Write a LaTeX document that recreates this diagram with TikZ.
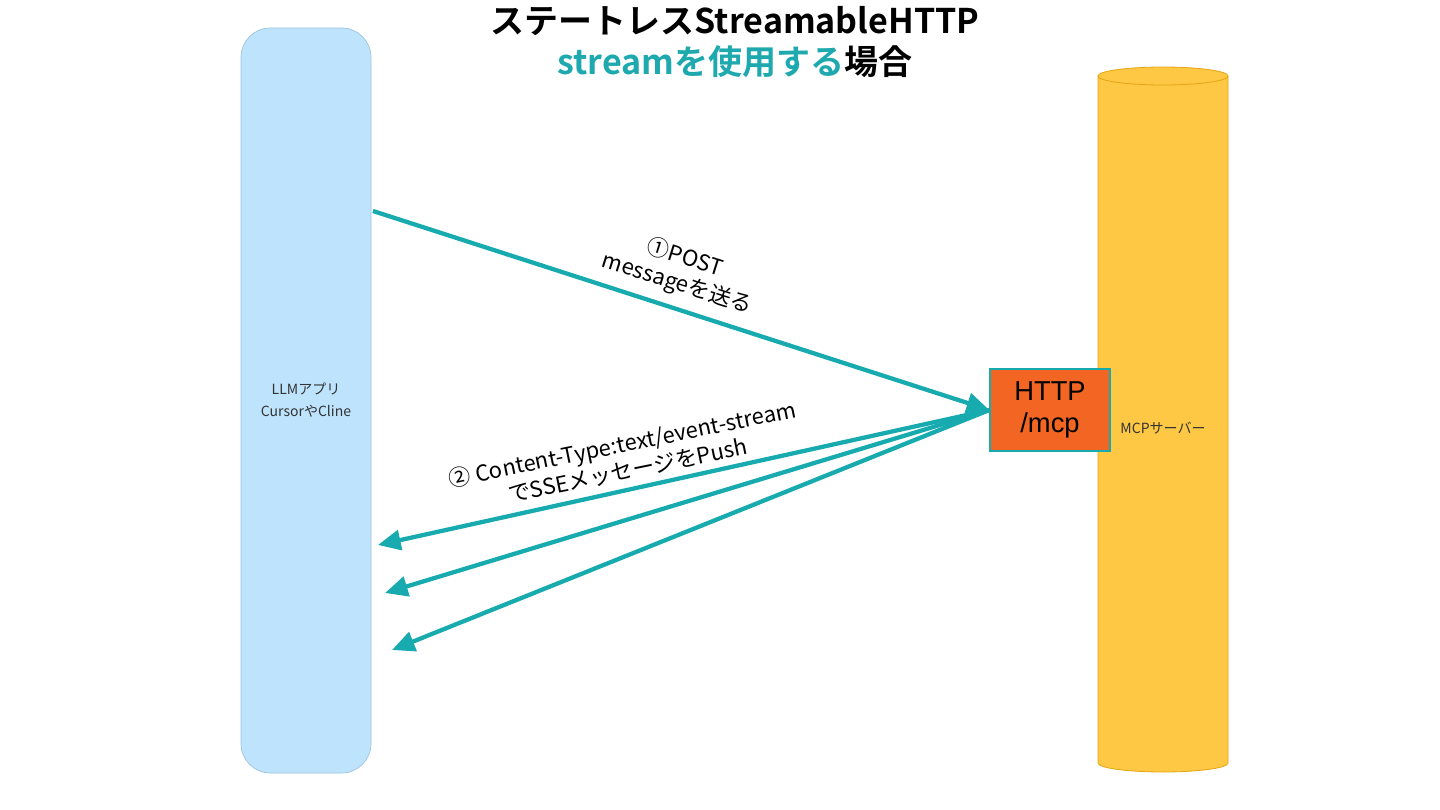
\documentclass[tikz,border=0pt]{standalone}
\usepackage{fontspec}
\setmainfont{Noto Sans CJK JP}
\newfontfamily\jpb{Noto Sans CJK JP}[BoldFont={* Bold}]
\newfontfamily\helv{Liberation Sans}
\usetikzlibrary{arrows.meta}
\definecolor{tealc}{HTML}{17AAAE}
\definecolor{titleteal}{HTML}{1DA9AE}
\definecolor{llmblue}{HTML}{BEE3FD}
\definecolor{llmedge}{HTML}{9CC2DC}
\definecolor{cylfill}{HTML}{FEC844}
\definecolor{cyledge}{HTML}{E3A512}
\definecolor{httporange}{HTML}{F26522}
\tikzset{
  arr/.style={draw=tealc, line width=3.2pt, -{Triangle[length=17pt,width=15pt]}},
  lbl/.style={font=\fontsize{16.5}{20}\selectfont, align=center, inner sep=0pt},
  small/.style={font=\fontsize{10.5}{17}\selectfont, text=black!80, align=center}
}
\begin{document}
\begin{tikzpicture}[x=0.75pt,y=-0.75pt]
\useasboundingbox (0,0) rectangle (1440,810);
\fill[white] (0,0) rectangle (1440,810);
% title
\node (title) at (735,42) [align=center, inner sep=0pt, font=\jpb\bfseries\fontsize{25.5}{30.5}\selectfont] {ステートレスStreamableHTTP\\\textcolor{titleteal}{streamを使用する}場合};
% LLM app box
\node (llm) at (306,400.5) [draw=llmedge, line width=0.5pt, fill=llmblue, rounded corners=22pt, minimum width=97.5pt, minimum height=558.75pt, inner sep=0pt] {};
\node (llmtxt) at (306,400) [small] {LLMアプリ\\CursorやCline};
% MCP server cylinder
\fill[cylfill, draw=cyledge, line width=0.6pt] (1098,76) -- (1098,763) arc[start angle=180, end angle=0, x radius=65, y radius=9] -- (1228,76) arc[start angle=0, end angle=-180, x radius=65, y radius=9] -- cycle;
\draw[cyledge, line width=0.6pt] (1098,76) arc[start angle=180, end angle=0, x radius=65, y radius=9];
\node (mcp) at (1163,428) [small] {MCPサーバー};
% HTTP box
\node (http) at (1050,410) [draw=tealc, line width=1pt, fill=httporange, minimum width=90pt, minimum height=61.5pt, inner sep=0pt, align=center, font=\helv\fontsize{20.5}{24}\selectfont] {HTTP\\/mcp};
% connectors
\coordinate (s1) at (373,211);
\coordinate (e1) at (378,545);
\coordinate (e2) at (385,593);
\coordinate (e3) at (392,650);
\draw[arr] (s1) -- (http.west);
\draw[arr] (http.west) -- (e1);
\draw[arr] (http.west) -- (e2);
\draw[arr] (http.west) -- (e3);
% labels
\node (l1) at (681,271) [lbl, rotate=-17.5] {①POST\\messageを送る};
\node (l2) at (625,457) [lbl, rotate=11.5] {② Content-Type:text/event-stream\\でSSEメッセージをPush};
\end{tikzpicture}
\end{document}
